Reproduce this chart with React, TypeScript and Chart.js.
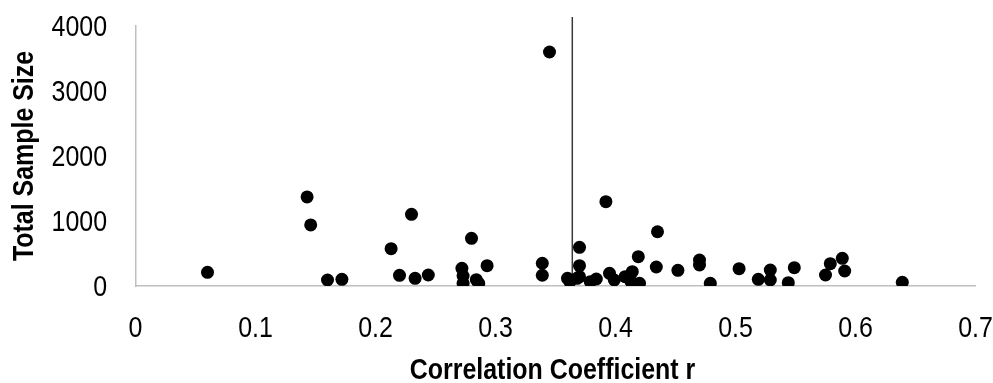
import React, { useEffect, useRef } from "react";
import { Chart, registerables } from "chart.js";

Chart.register(...registerables);

// Correlation coefficient r (x) and total sample size (y)
const rValues: number[] = [
  0.06, 0.143, 0.146, 0.16, 0.172, 0.213, 0.23, 0.22, 0.233, 0.244,
  0.28, 0.272, 0.273, 0.273, 0.284, 0.286, 0.293, 0.339, 0.339, 0.345,
  0.36, 0.362, 0.37, 0.37, 0.37, 0.368, 0.379, 0.384, 0.392, 0.395,
  0.399, 0.408, 0.414, 0.413, 0.42, 0.419, 0.435, 0.434, 0.452, 0.47,
  0.47, 0.479, 0.503, 0.519, 0.529, 0.529, 0.544, 0.549, 0.575, 0.579,
  0.589, 0.591, 0.639,
];
const sampleSizes: number[] = [
  210, 1370, 940, 92, 103, 574, 1103, 164, 118, 169,
  734, 272, 154, 41, 97, 41, 312, 350, 165, 3600,
  118, 66, 595, 312, 143, 118, 66, 108, 1297, 195,
  92, 143, 220, 66, 41, 451, 835, 292, 241, 400,
  323, 41, 266, 103, 246, 92, 51, 282, 169, 343,
  426, 231, 57,
];
const meanR = 0.364;
const meanLineTop = 4140;

const xTicks: number[] = [0, 0.1, 0.2, 0.3, 0.4, 0.5, 0.6, 0.7];
const yTicks: number[] = [0, 1000, 2000, 3000, 4000];
const xTickLabels: string[] = ["0", "0.1", "0.2", "0.3", "0.4", "0.5", "0.6", "0.7"];
const yTickLabels: string[] = ["0", "1000", "2000", "3000", "4000"];
const xTitle = "Correlation Coefficient r";
const yTitle = "Total Sample Size";

const FONT = "'Liberation Sans', Arial, sans-serif";
const NARROW = 0.86; // emulate Arial Narrow by horizontal compression

function narrowText(
  ctx: CanvasRenderingContext2D,
  text: string,
  x: number,
  y: number,
  font: string,
  align: CanvasTextAlign,
  rotate = 0
) {
  ctx.save();
  ctx.translate(x, y);
  if (rotate) ctx.rotate(rotate);
  ctx.scale(NARROW, 1);
  ctx.font = font;
  ctx.fillStyle = "#000000";
  ctx.textAlign = align;
  ctx.textBaseline = "alphabetic";
  ctx.fillText(text, 0, 0);
  ctx.restore();
}

const axisTextPlugin = {
  id: "axisText",
  afterDraw(chart: any) {
    const { ctx, chartArea } = chart;
    const xs = chart.scales.x;
    const ys = chart.scales.y;
    const tickFont = `29px ${FONT}`;
    const titleFont = `bold 29px ${FONT}`;
    xTicks.forEach((v, i) => {
      narrowText(ctx, xTickLabels[i], xs.getPixelForValue(v), chartArea.bottom + 51, tickFont, "center");
    });
    yTicks.forEach((v, i) => {
      narrowText(ctx, yTickLabels[i], chartArea.left - 28.5, ys.getPixelForValue(v) + 10.4, tickFont, "right");
    });
    narrowText(ctx, xTitle, (chartArea.left + chartArea.right) / 2 - 3, chartArea.bottom + 93, titleFont, "center");
    narrowText(ctx, yTitle, 33, (chartArea.top + chartArea.bottom) / 2, titleFont, "center", -Math.PI / 2);
  },
};

export default function App() {
  const ref = useRef<HTMLCanvasElement | null>(null);

  useEffect(() => {
    document.body.style.margin = "0";
    const canvas = ref.current;
    if (!canvas) return;
    const points = rValues.map((x, i) => ({ x, y: sampleSizes[i] }));
    const chart = new Chart(canvas, {
      type: "scatter",
      data: {
        datasets: [
          {
            label: "Studies",
            data: points,
            backgroundColor: "#000000",
            borderColor: "#000000",
            borderWidth: 0,
            pointRadius: 6.5,
            pointHoverRadius: 6.5,
          },
          {
            label: "Mean r",
            type: "line",
            data: [
              { x: meanR, y: 0 },
              { x: meanR, y: meanLineTop },
            ],
            borderColor: "#3a3a3a",
            borderWidth: 1.5,
            pointRadius: 0,
            showLine: true,
            clip: false as any,
          } as any,
        ],
      },
      plugins: [axisTextPlugin],
      options: {
        responsive: false,
        animation: false,
        maintainAspectRatio: false,
        layout: { padding: { left: 0, top: 26, right: 17.5, bottom: 0 } },
        plugins: {
          legend: { display: false },
          tooltip: { enabled: false },
        },
        scales: {
          x: {
            type: "linear",
            min: 0,
            max: 0.7,
            afterBuildTicks: (s: any) => {
              s.ticks = xTicks.map((v) => ({ value: v }));
            },
            afterFit: (s: any) => {
              s.height = 97;
              s.paddingLeft = 0;
              s.paddingRight = 0;
            },
            grid: { drawOnChartArea: false, drawTicks: false },
            border: { display: true, color: "#bfbfbf", width: 1.5 },
            ticks: { display: false },
            title: { display: false },
          },
          y: {
            type: "linear",
            min: 0,
            max: 4000,
            afterBuildTicks: (s: any) => {
              s.ticks = yTicks.map((v) => ({ value: v }));
            },
            afterFit: (s: any) => {
              s.width = 135.5;
              s.paddingTop = 0;
              s.paddingBottom = 0;
            },
            grid: { drawOnChartArea: false, drawTicks: false },
            border: { display: true, color: "#bfbfbf", width: 1.5 },
            ticks: { display: false },
            title: { display: false },
          },
        },
      },
    });
    return () => chart.destroy();
  }, []);

  return (
    <div style={{ width: 993, height: 383, background: "#ffffff" }}>
      <canvas ref={ref} width={993} height={383} style={{ display: "block" }} />
    </div>
  );
}
